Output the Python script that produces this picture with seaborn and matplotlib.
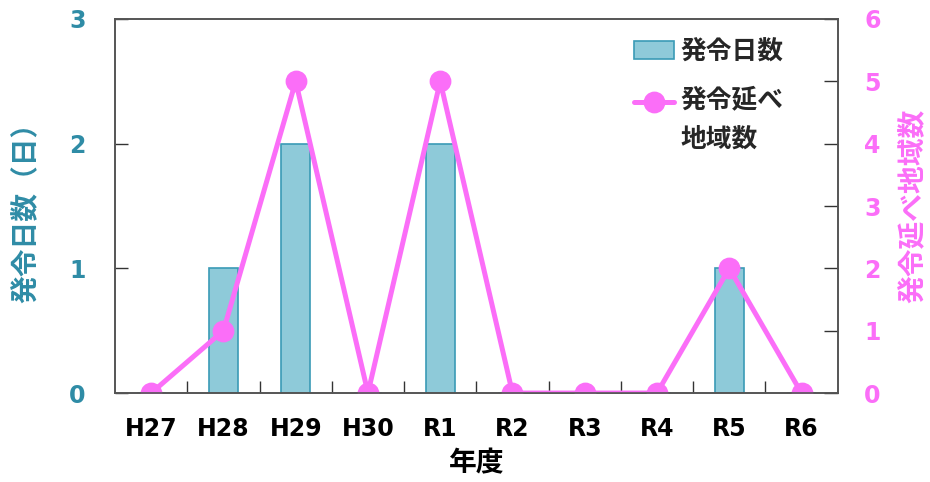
import matplotlib
matplotlib.use("Agg")
import matplotlib.pyplot as plt
import seaborn as sns
import pandas as pd
import numpy as np
from matplotlib.ticker import FixedLocator, NullFormatter
from matplotlib.legend_handler import HandlerLine2D

sns.set_theme(style="white")
plt.rcParams['font.family'] = ['Noto Sans CJK JP', 'DejaVu Sans']
plt.rcParams['font.weight'] = 'bold'

years = ["H27", "H28", "H29", "H30", "R1", "R2", "R3", "R4", "R5", "R6"]
days = [0, 1, 2, 0, 2, 0, 0, 0, 1, 0]
regions = [0, 1, 5, 0, 5, 0, 0, 0, 2, 0]

df = pd.DataFrame({"year": years, "days": days, "regions": regions})

teal = "#2f8ca6"
pink = "#fb6ef8"
bar_fill = "#8ecad9"
bar_edge = "#3a9bb6"

fig = plt.figure(figsize=(9.3, 4.82), dpi=100)
ax = fig.add_axes([0.1237, 0.1846, 0.777, 0.776])
sns.barplot(data=df, x="year", y="days", ax=ax, color=bar_fill, edgecolor=bar_edge,
            linewidth=1.2, width=0.4, saturation=1, label="発令日数")
ax2 = ax.twinx()
sns.pointplot(data=df, x="year", y="regions", ax=ax2, color=pink, markersize=13,
              linewidth=3.6, label="発令延べ\n地域数", errorbar=None)

ax.set_xlim(-0.5, 9.5)
ax.set_ylim(0, 3)
ax2.set_ylim(0, 6)
ax.set_yticks([0, 1, 2, 3])
ax2.set_yticks(range(7))

for a in (ax, ax2):
    for s in a.spines.values():
        s.set_color("#555555")
        s.set_linewidth(1.2)

latin = ['DejaVu Sans']
ax.tick_params(axis='y', direction='in', length=9, width=1, color="#333333",
               labelsize=17, labelcolor=teal, pad=21)
ax2.tick_params(axis='y', direction='in', length=10, width=1, color="#333333",
                labelsize=17, labelcolor=pink, pad=19)
ax.xaxis.set_minor_locator(FixedLocator([i + 0.5 for i in range(9)]))
ax.xaxis.set_minor_formatter(NullFormatter())
ax.tick_params(axis='x', which='major', length=0, labelsize=17, labelcolor="black", pad=17)
ax.tick_params(axis='x', which='minor', direction='in', length=9, width=1, color="#333333", bottom=True)
for lbl in ax.get_xticklabels() + ax.get_yticklabels() + ax2.get_yticklabels():
    lbl.set_fontweight('bold')
    lbl.set_family(latin)

ax.set_xlabel("年度", fontsize=20, fontweight='bold', color="black", labelpad=6)
ax.set_ylabel("発令日数（日）", fontsize=20, fontweight='bold', color=teal, labelpad=21)
ax2.set_ylabel("発令延べ地域数", fontsize=20, fontweight='bold', color=pink, labelpad=14)


class HandlerTopLine(HandlerLine2D):
    def create_artists(self, legend, orig_handle, xdescent, ydescent, width, height, fontsize, trans):
        arts = super().create_artists(legend, orig_handle, xdescent, ydescent, width, height, fontsize, trans)
        for a in arts:
            a.set_ydata(np.asarray(a.get_ydata(), dtype=float) + 0.72 * fontsize)
        return arts


h1, l1 = ax.get_legend_handles_labels()
h2, l2 = ax2.get_legend_handles_labels()
if ax.get_legend() is not None:
    ax.get_legend().remove()
leg = ax2.legend(h1 + h2, l1 + l2, loc="upper left", bbox_to_anchor=(0.686, 1.01),
                 frameon=False, labelspacing=0.8, handlelength=1.55, handletextpad=0.25,
                 prop={'weight': 'bold', 'size': 18.5},
                 handler_map={h2[0]: HandlerTopLine()})
for t in leg.get_texts():
    t.set_linespacing(1.6)

fig.savefig("out.png", dpi=100)
